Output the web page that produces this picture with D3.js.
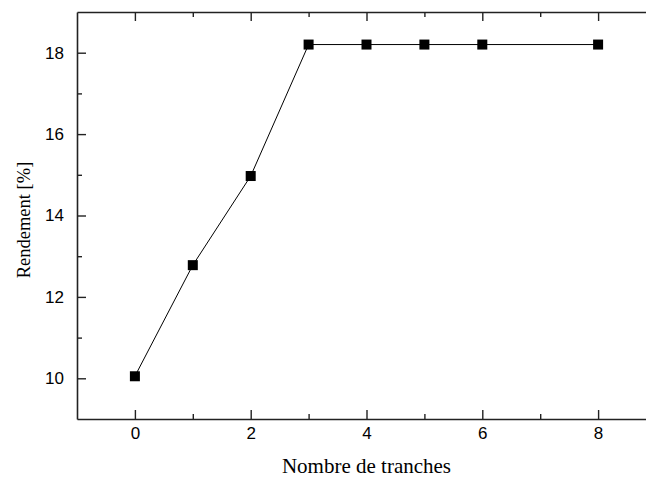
<!DOCTYPE html>
<html>
<head>
<meta charset="utf-8">
<script src="https://cdn.jsdelivr.net/npm/d3@7"></script>
<style>
  body { margin: 0; background: #fff; }
  .tick text { font-family: "Liberation Sans", Arial, sans-serif; font-size: 17px; fill: #000; }
  .axis-title { font-family: "Liberation Serif", "Times New Roman", serif; fill: #000; }
</style>
</head>
<body>
<div class="chart"></div>
<script>
// data
const tranches = [0, 1, 2, 3, 4, 5, 6, 8];
const rendement = [10.05, 12.78, 14.97, 18.2, 18.2, 18.2, 18.2, 18.2];

const xMajor = [0, 2, 4, 6, 8];
const xMinor = [1, 3, 5, 7];
const yMajor = [10, 12, 14, 16, 18];
const yMinor = [11, 13, 15, 17];

// dimensions; the frame is cut by the right border of the image
const width = 646, height = 479;
const margin = {top: 12, left: 77, bottom: 60};
const plotBottom = height - margin.bottom;

const svg = d3.select(".chart")
    .append("svg")
        .attr("width", width)
        .attr("height", height);

const x = d3.scaleLinear()
    .domain([-1, 9])
    .range([margin.left, margin.left + 579]);

const y = d3.scaleLinear()
    .domain([9, 19])
    .range([plotBottom, margin.top]);

function styleAxis(g) {
    g.select(".domain").attr("stroke", "#222").attr("stroke-width", 1.6);
    g.selectAll(".tick line").attr("stroke", "#222").attr("stroke-width", 1.4);
}

// bottom axis, major + minor
svg.append("g")
    .attr("transform", "translate(0," + plotBottom + ")")
    .call(d3.axisBottom(x).tickValues(xMajor).tickSize(-9).tickSizeOuter(0).tickPadding(8).tickFormat(d3.format("d")))
    .call(styleAxis);
svg.append("g")
    .attr("transform", "translate(0," + plotBottom + ")")
    .call(d3.axisBottom(x).tickValues(xMinor).tickSize(-5).tickFormat(""))
    .call(g => g.select(".domain").remove())
    .call(styleAxis);

// top axis
svg.append("g")
    .attr("transform", "translate(0," + margin.top + ")")
    .call(d3.axisTop(x).tickValues(xMajor).tickSize(-9).tickSizeOuter(0).tickFormat(""))
    .call(styleAxis);
svg.append("g")
    .attr("transform", "translate(0," + margin.top + ")")
    .call(d3.axisTop(x).tickValues(xMinor).tickSize(-5).tickFormat(""))
    .call(g => g.select(".domain").remove())
    .call(styleAxis);

// left axis
svg.append("g")
    .attr("transform", "translate(" + margin.left + ",0)")
    .call(d3.axisLeft(y).tickValues(yMajor).tickSize(-9).tickSizeOuter(0).tickPadding(13).tickFormat(d3.format("d")))
    .call(styleAxis);
svg.append("g")
    .attr("transform", "translate(" + margin.left + ",0)")
    .call(d3.axisLeft(y).tickValues(yMinor).tickSize(-5).tickFormat(""))
    .call(g => g.select(".domain").remove())
    .call(styleAxis);

// line
const pts = tranches.map((t, i) => [t, rendement[i]]);
svg.append("path")
    .datum(pts)
    .attr("fill", "none")
    .attr("stroke", "#000")
    .attr("stroke-width", 1)
    .attr("d", d3.line().x(d => x(d[0])).y(d => y(d[1])));

// square markers
const s = 10;
svg.append("g")
    .selectAll("rect")
    .data(pts)
    .enter()
    .append("rect")
        .attr("x", d => x(d[0]) - s / 2)
        .attr("y", d => y(d[1]) - s / 2)
        .attr("width", s)
        .attr("height", s)
        .attr("fill", "#000");

// titles
svg.append("text")
    .attr("class", "axis-title")
    .attr("x", x(4))
    .attr("y", 473)
    .attr("font-size", "21px")
    .attr("text-anchor", "middle")
    .text("Nombre de tranches");

svg.append("text")
    .attr("class", "axis-title")
    .attr("transform", "translate(30,220) rotate(-90)")
    .attr("font-size", "18.5px")
    .attr("text-anchor", "middle")
    .text("Rendement [%]");
</script>
</body>
</html>
